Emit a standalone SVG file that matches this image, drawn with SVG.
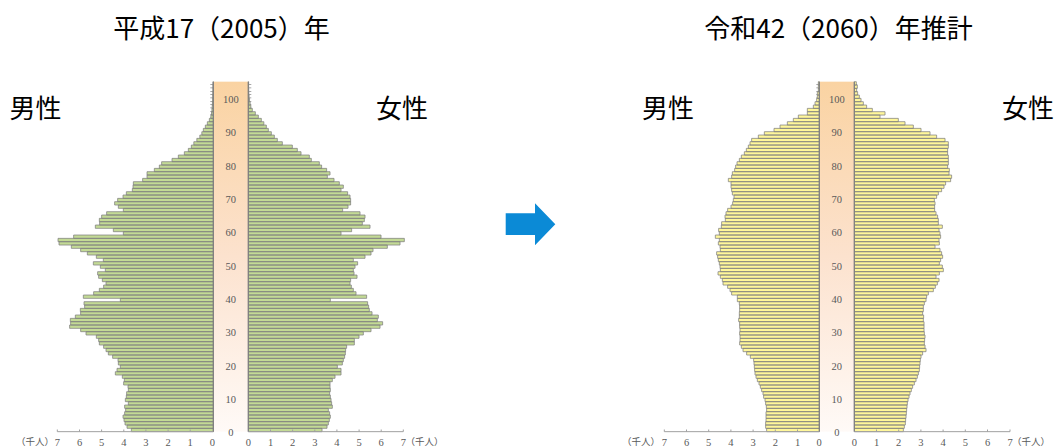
<svg xmlns="http://www.w3.org/2000/svg" width="1060" height="446" viewBox="0 0 1060 446">
<defs>
<linearGradient id="band" x1="0" y1="0" x2="0" y2="1">
<stop offset="0" stop-color="#FAD3A2"/>
<stop offset="0.5" stop-color="#FCE2CE"/>
<stop offset="1" stop-color="#FFFAF7"/>
</linearGradient>
<style>
.title{font-family:"Noto Sans CJK JP","Noto Sans CJK SC",sans-serif;font-size:26px;fill:#000;}
.sex{font-family:"Noto Sans CJK JP","Noto Sans CJK SC",sans-serif;font-size:26px;fill:#000;}
.age{font-family:"Liberation Serif",serif;font-size:10.5px;fill:#595959;text-anchor:middle;}
.num{font-family:"Liberation Serif",serif;font-size:10.5px;fill:#595959;text-anchor:middle;}
.unit{font-family:"Noto Sans CJK JP",sans-serif;font-size:9.5px;fill:#595959;text-anchor:middle;}
.green{fill:#C3DA95;stroke:#808080;stroke-width:0.75;}
.yellow{fill:#FFF79A;stroke:#808080;stroke-width:0.75;}
.edge{stroke:#7F7F7F;stroke-width:1.2;fill:none;}
.tick{stroke:#8C8C8C;stroke-width:3;stroke-dasharray:0.8 2.533;fill:none;}
.axis{stroke:#A0A0A0;stroke-width:1;fill:none;}
</style>
</defs>
<rect width="1060" height="446" fill="#fff"/>

<text class="title" x="221.5" y="38" text-anchor="middle">平成17（2005）年</text>
<text class="title" x="838.5" y="38" text-anchor="middle">令和42（2060）年推計</text>

<g id="pyramid-2005">
<rect x="213.33" y="81.67" width="35" height="350" fill="url(#band)"/>
<line class="tick" x1="211.8" y1="431.67" x2="211.8" y2="81.67"/>
<line class="tick" x1="249.8" y1="431.67" x2="249.8" y2="81.67"/>
<path id="male-2005" class="green" d="M213.33 431.67h-82v-3.333H213.33zm0-3.333h-86.3v-3.333H213.33zm0-3.333h-88.3v-3.333H213.33zm0-3.333h-89.3v-3.333H213.33zm0-3.333h-90.3v-3.333H213.33zm0-3.333h-88.7v-3.333H213.33zm0-3.333h-87.7v-3.333H213.33zm0-3.333h-88.7v-3.333H213.33zm0-3.333h-85v-3.333H213.33zm0-3.333h-88v-3.333H213.33zm0-3.333h-87v-3.333H213.33zm0-3.333h-86.7v-3.333H213.33zm0-3.333h-85v-3.333H213.33zm0-3.333h-85.3v-3.333H213.33zm0-3.333h-89.7v-3.333H213.33zm0-3.333h-89v-3.333H213.33zm0-3.333h-91v-3.333H213.33zm0-3.333h-98v-3.333H213.33zm0-3.333h-96.3v-3.333H213.33zm0-3.333h-93v-3.333H213.33zm0-3.333h-95v-3.333H213.33zm0-3.333h-95.3v-3.333H213.33zm0-3.333h-100.7v-3.333H213.33zm0-3.333h-105v-3.333H213.33zm0-3.333h-107.3v-3.333H213.33zm0-3.333h-109.7v-3.333H213.33zm0-3.333h-114v-3.333H213.33zm0-3.333h-114.7v-3.333H213.33zm0-3.333h-117v-3.333H213.33zm0-3.333h-127.3v-3.333H213.33zm0-3.333h-132.7v-3.333H213.33zm0-3.333h-143.7v-3.333H213.33zm0-3.333h-142.7v-3.333H213.33zm0-3.333h-143v-3.333H213.33zm0-3.333h-138v-3.333H213.33zm0-3.333h-132.7v-3.333H213.33zm0-3.333h-133v-3.333H213.33zm0-3.333h-128.7v-3.333H213.33zm0-3.333h-129.3v-3.333H213.33zm0-3.333h-93v-3.333H213.33zm0-3.333h-130v-3.333H213.33zm0-3.333h-119.7v-3.333H213.33zm0-3.333h-114v-3.333H213.33zm0-3.333h-109.7v-3.333H213.33zm0-3.333h-107.3v-3.333H213.33zm0-3.333h-111v-3.333H213.33zm0-3.333h-114.7v-3.333H213.33zm0-3.333h-115.7v-3.333H213.33zm0-3.333h-108v-3.333H213.33zm0-3.333h-113v-3.333H213.33zm0-3.333h-120v-3.333H213.33zm0-3.333h-110v-3.333H213.33zm0-3.333h-117v-3.333H213.33zm0-3.333h-126v-3.333H213.33zm0-3.333h-132.7v-3.333H213.33zm0-3.333h-142v-3.333H213.33zm0-3.333h-154.3v-3.333H213.33zm0-3.333h-155.3v-3.333H213.33zm0-3.333h-139.7v-3.333H213.33zm0-3.333h-90v-3.333H213.33zm0-3.333h-100v-3.333H213.33zm0-3.333h-118v-3.333H213.33zm0-3.333h-113.7v-3.333H213.33zm0-3.333h-114v-3.333H213.33zm0-3.333h-111.7v-3.333H213.33zm0-3.333h-106.7v-3.333H213.33zm0-3.333h-90v-3.333H213.33zm0-3.333h-95v-3.333H213.33zm0-3.333h-98.7v-3.333H213.33zm0-3.333h-95.7v-3.333H213.33zm0-3.333h-90.3v-3.333H213.33zm0-3.333h-87v-3.333H213.33zm0-3.333h-81v-3.333H213.33zm0-3.333h-80.3v-3.333H213.33zm0-3.333h-80v-3.333H213.33zm0-3.333h-70.7v-3.333H213.33zm0-3.333h-66.3v-3.333H213.33zm0-3.333h-66.3v-3.333H213.33zm0-3.333h-59v-3.333H213.33zm0-3.333h-54v-3.333H213.33zm0-3.333h-51.7v-3.333H213.33zm0-3.333h-41.3v-3.333H213.33zm0-3.333h-35v-3.333H213.33zm0-3.333h-29v-3.333H213.33zm0-3.333h-25v-3.333H213.33zm0-3.333h-22v-3.333H213.33zm0-3.333h-19.5v-3.333H213.33zm0-3.333h-16.5v-3.333H213.33zm0-3.333h-13.5v-3.333H213.33zm0-3.333h-11.5v-3.333H213.33zm0-3.333h-10v-3.333H213.33zm0-3.333h-8v-3.333H213.33zm0-3.333h-6v-3.333H213.33zm0-3.333h-4v-3.333H213.33zm0-3.333h-2.5v-3.333H213.33zm0-3.333h-1.8v-3.333H213.33zm0-3.333h-1.4v-3.333H213.33zm0-3.333h-1.1v-3.333H213.33zm0-3.333h-0.9v-3.333H213.33zm0-3.333h-0.7v-3.333H213.33zm0-3.333h-0.6v-3.333H213.33zm0-3.333h-0.5v-3.333H213.33zm0-3.333h-0.4v-3.333H213.33zm0-3.333h-0.4v-3.333H213.33zm0-3.333h-0.3v-3.333H213.33z"/>
<path id="female-2005" class="green" d="M248.33 431.67h73.7v-3.333H248.33zm0-3.333h78.7v-3.333H248.33zm0-3.333h80v-3.333H248.33zm0-3.333h81v-3.333H248.33zm0-3.333h82v-3.333H248.33zm0-3.333h81.3v-3.333H248.33zm0-3.333h80v-3.333H248.33zm0-3.333h84v-3.333H248.33zm0-3.333h83.3v-3.333H248.33zm0-3.333h82.7v-3.333H248.33zm0-3.333h82v-3.333H248.33zm0-3.333h81.3v-3.333H248.33zm0-3.333h82v-3.333H248.33zm0-3.333h81.7v-3.333H248.33zm0-3.333h81.7v-3.333H248.33zm0-3.333h84v-3.333H248.33zm0-3.333h86.7v-3.333H248.33zm0-3.333h92.7v-3.333H248.33zm0-3.333h92.7v-3.333H248.33zm0-3.333h89v-3.333H248.33zm0-3.333h94v-3.333H248.33zm0-3.333h95v-3.333H248.33zm0-3.333h96.3v-3.333H248.33zm0-3.333h97v-3.333H248.33zm0-3.333h97.3v-3.333H248.33zm0-3.333h98.3v-3.333H248.33zm0-3.333h106v-3.333H248.33zm0-3.333h106v-3.333H248.33zm0-3.333h110.7v-3.333H248.33zm0-3.333h115v-3.333H248.33zm0-3.333h122.7v-3.333H248.33zm0-3.333h131.7v-3.333H248.33zm0-3.333h134.3v-3.333H248.33zm0-3.333h129v-3.333H248.33zm0-3.333h130v-3.333H248.33zm0-3.333h123.7v-3.333H248.33zm0-3.333h121v-3.333H248.33zm0-3.333h120.3v-3.333H248.33zm0-3.333h119.3v-3.333H248.33zm0-3.333h82v-3.333H248.33zm0-3.333h118.3v-3.333H248.33zm0-3.333h107.7v-3.333H248.33zm0-3.333h105v-3.333H248.33zm0-3.333h103v-3.333H248.33zm0-3.333h101.7v-3.333H248.33zm0-3.333h102.3v-3.333H248.33zm0-3.333h108.7v-3.333H248.33zm0-3.333h105.7v-3.333H248.33zm0-3.333h105v-3.333H248.33zm0-3.333h106.7v-3.333H248.33zm0-3.333h109.3v-3.333H248.33zm0-3.333h105v-3.333H248.33zm0-3.333h116.7v-3.333H248.33zm0-3.333h122.7v-3.333H248.33zm0-3.333h124.7v-3.333H248.33zm0-3.333h139v-3.333H248.33zm0-3.333h151.7v-3.333H248.33zm0-3.333h156v-3.333H248.33zm0-3.333h132.7v-3.333H248.33zm0-3.333h92.7v-3.333H248.33zm0-3.333h103.3v-3.333H248.33zm0-3.333h121.7v-3.333H248.33zm0-3.333h114v-3.333H248.33zm0-3.333h116v-3.333H248.33zm0-3.333h116.7v-3.333H248.33zm0-3.333h111.7v-3.333H248.33zm0-3.333h94.3v-3.333H248.33zm0-3.333h99.7v-3.333H248.33zm0-3.333h102.3v-3.333H248.33zm0-3.333h102.3v-3.333H248.33zm0-3.333h101.7v-3.333H248.33zm0-3.333h99.3v-3.333H248.33zm0-3.333h92.7v-3.333H248.33zm0-3.333h95v-3.333H248.33zm0-3.333h91v-3.333H248.33zm0-3.333h85.7v-3.333H248.33zm0-3.333h79v-3.333H248.33zm0-3.333h81.7v-3.333H248.33zm0-3.333h78.3v-3.333H248.33zm0-3.333h73.3v-3.333H248.33zm0-3.333h71v-3.333H248.33zm0-3.333h63v-3.333H248.33zm0-3.333h61v-3.333H248.33zm0-3.333h52.7v-3.333H248.33zm0-3.333h49v-3.333H248.33zm0-3.333h44v-3.333H248.33zm0-3.333h34v-3.333H248.33zm0-3.333h29v-3.333H248.33zm0-3.333h26v-3.333H248.33zm0-3.333h23v-3.333H248.33zm0-3.333h20v-3.333H248.33zm0-3.333h18v-3.333H248.33zm0-3.333h15.5v-3.333H248.33zm0-3.333h13v-3.333H248.33zm0-3.333h10v-3.333H248.33zm0-3.333h7v-3.333H248.33zm0-3.333h4v-3.333H248.33zm0-3.333h2.5v-3.333H248.33zm0-3.333h1.8v-3.333H248.33zm0-3.333h1.2v-3.333H248.33zm0-3.333h0.8v-3.333H248.33zm0-3.333h0.5v-3.333H248.33zm0-3.333h0.4v-3.333H248.33zm0-3.333h0.3v-3.333H248.33zm0-3.333h0.3v-3.333H248.33z"/>
<line class="edge" x1="213.33" y1="81.67" x2="213.33" y2="431.67"/>
<line class="edge" x1="248.33" y1="81.67" x2="248.33" y2="431.67"/>
<path class="axis" d="M57.3 431.67H213.33M57.3 429.5v2.17M79.5 429.5v2.17M101.6 429.5v2.17M123.8 429.5v2.17M145.9 429.5v2.17M168.1 429.5v2.17M190.2 429.5v2.17M248.33 431.67H403.3M270.5 429.5v2.17M292.6 429.5v2.17M314.8 429.5v2.17M336.9 429.5v2.17M359.1 429.5v2.17M381.2 429.5v2.17M403.3 429.5v2.17"/>
<g class="age">
<text x="230.8" y="103">100</text><text x="230.8" y="136.3">90</text><text x="230.8" y="169.7">80</text><text x="230.8" y="203">70</text><text x="230.8" y="236.3">60</text><text x="230.8" y="269.7">50</text><text x="230.8" y="303">40</text><text x="230.8" y="336.3">30</text><text x="230.8" y="369.7">20</text><text x="230.8" y="403">10</text><text x="230.8" y="436.3">0</text>
</g>
<g class="num">
<text x="57.3" y="445.5">7</text><text x="79.5" y="445.5">6</text><text x="101.6" y="445.5">5</text><text x="123.8" y="445.5">4</text><text x="145.9" y="445.5">3</text><text x="168.1" y="445.5">2</text><text x="190.2" y="445.5">1</text><text x="212.3" y="445.5">0</text>
<text x="248.3" y="445.5">0</text><text x="270.5" y="445.5">1</text><text x="292.6" y="445.5">2</text><text x="314.8" y="445.5">3</text><text x="336.9" y="445.5">4</text><text x="359.1" y="445.5">5</text><text x="381.2" y="445.5">6</text><text x="403.3" y="445.5">7</text>
</g>
<text class="unit" x="35" y="445">（千人）</text>
<text class="unit" x="424.5" y="445">（千人）</text>
<text class="sex" x="9.5" y="118">男性</text>
<text class="sex" x="376" y="118">女性</text>
</g>

<g id="arrow">
<polygon points="505.7,213.3 535,213.3 535,203.3 555.3,224.2 535,245.2 535,235 505.7,235" fill="#0B8AD6"/>
</g>

<g id="pyramid-2060">
<rect x="819.33" y="81.67" width="35" height="350" fill="url(#band)"/>
<line class="tick" x1="817.8" y1="431.67" x2="817.8" y2="81.67"/>
<line class="tick" x1="855.8" y1="431.67" x2="855.8" y2="81.67"/>
<path id="male-2060" class="yellow" d="M819.33 431.67h-52.7v-3.333H819.33zm0-3.333h-53.7v-3.333H819.33zm0-3.333h-53.7v-3.333H819.33zm0-3.333h-53.3v-3.333H819.33zm0-3.333h-53.3v-3.333H819.33zm0-3.333h-53.3v-3.333H819.33zm0-3.333h-52.7v-3.333H819.33zm0-3.333h-53v-3.333H819.33zm0-3.333h-53.7v-3.333H819.33zm0-3.333h-54.3v-3.333H819.33zm0-3.333h-55.7v-3.333H819.33zm0-3.333h-56.3v-3.333H819.33zm0-3.333h-57.7v-3.333H819.33zm0-3.333h-59v-3.333H819.33zm0-3.333h-60.3v-3.333H819.33zm0-3.333h-62v-3.333H819.33zm0-3.333h-63.3v-3.333H819.33zm0-3.333h-64.3v-3.333H819.33zm0-3.333h-64.7v-3.333H819.33zm0-3.333h-65v-3.333H819.33zm0-3.333h-65.3v-3.333H819.33zm0-3.333h-65.7v-3.333H819.33zm0-3.333h-69v-3.333H819.33zm0-3.333h-72.7v-3.333H819.33zm0-3.333h-76.3v-3.333H819.33zm0-3.333h-78v-3.333H819.33zm0-3.333h-79.7v-3.333H819.33zm0-3.333h-79.3v-3.333H819.33zm0-3.333h-79.3v-3.333H819.33zm0-3.333h-79.7v-3.333H819.33zm0-3.333h-79.3v-3.333H819.33zm0-3.333h-79.7v-3.333H819.33zm0-3.333h-79.7v-3.333H819.33zm0-3.333h-80.7v-3.333H819.33zm0-3.333h-80v-3.333H819.33zm0-3.333h-80v-3.333H819.33zm0-3.333h-79.7v-3.333H819.33zm0-3.333h-79.7v-3.333H819.33zm0-3.333h-80v-3.333H819.33zm0-3.333h-82v-3.333H819.33zm0-3.333h-82v-3.333H819.33zm0-3.333h-87.7v-3.333H819.33zm0-3.333h-89.3v-3.333H819.33zm0-3.333h-91.7v-3.333H819.33zm0-3.333h-96.3v-3.333H819.33zm0-3.333h-97v-3.333H819.33zm0-3.333h-99v-3.333H819.33zm0-3.333h-101.3v-3.333H819.33zm0-3.333h-99v-3.333H819.33zm0-3.333h-99.3v-3.333H819.33zm0-3.333h-100v-3.333H819.33zm0-3.333h-101v-3.333H819.33zm0-3.333h-101.7v-3.333H819.33zm0-3.333h-102.7v-3.333H819.33zm0-3.333h-99v-3.333H819.33zm0-3.333h-99.3v-3.333H819.33zm0-3.333h-101v-3.333H819.33zm0-3.333h-100v-3.333H819.33zm0-3.333h-104v-3.333H819.33zm0-3.333h-100v-3.333H819.33zm0-3.333h-100.7v-3.333H819.33zm0-3.333h-98v-3.333H819.33zm0-3.333h-97.7v-3.333H819.33zm0-3.333h-94v-3.333H819.33zm0-3.333h-94.3v-3.333H819.33zm0-3.333h-93.3v-3.333H819.33zm0-3.333h-91.7v-3.333H819.33zm0-3.333h-88.3v-3.333H819.33zm0-3.333h-86.7v-3.333H819.33zm0-3.333h-86v-3.333H819.33zm0-3.333h-85.3v-3.333H819.33zm0-3.333h-87v-3.333H819.33zm0-3.333h-87.7v-3.333H819.33zm0-3.333h-88.3v-3.333H819.33zm0-3.333h-88.3v-3.333H819.33zm0-3.333h-91v-3.333H819.33zm0-3.333h-87.7v-3.333H819.33zm0-3.333h-87v-3.333H819.33zm0-3.333h-84.7v-3.333H819.33zm0-3.333h-83.7v-3.333H819.33zm0-3.333h-82.3v-3.333H819.33zm0-3.333h-80v-3.333H819.33zm0-3.333h-78v-3.333H819.33zm0-3.333h-75v-3.333H819.33zm0-3.333h-73v-3.333H819.33zm0-3.333h-71v-3.333H819.33zm0-3.333h-69.3v-3.333H819.33zm0-3.333h-67.7v-3.333H819.33zm0-3.333h-61v-3.333H819.33zm0-3.333h-55v-3.333H819.33zm0-3.333h-45.3v-3.333H819.33zm0-3.333h-39.3v-3.333H819.33zm0-3.333h-32v-3.333H819.33zm0-3.333h-26v-3.333H819.33zm0-3.333h-21v-3.333H819.33zm0-3.333h-12v-3.333H819.33zm0-3.333h-12v-3.333H819.33zm0-3.333h-6v-3.333H819.33zm0-3.333h-4.3v-3.333H819.33zm0-3.333h-2.7v-3.333H819.33zm0-3.333h-2v-3.333H819.33zm0-3.333h-2v-3.333H819.33zm0-3.333h-1v-3.333H819.33zm0-3.333h-1v-3.333H819.33zm0-3.333h-1v-3.333H819.33z"/>
<path id="female-2060" class="yellow" d="M854.33 431.67h49v-3.333H854.33zm0-3.333h50v-3.333H854.33zm0-3.333h51v-3.333H854.33zm0-3.333h51.3v-3.333H854.33zm0-3.333h51.7v-3.333H854.33zm0-3.333h52v-3.333H854.33zm0-3.333h52.3v-3.333H854.33zm0-3.333h52.7v-3.333H854.33zm0-3.333h53v-3.333H854.33zm0-3.333h53.7v-3.333H854.33zm0-3.333h54.7v-3.333H854.33zm0-3.333h55.7v-3.333H854.33zm0-3.333h57v-3.333H854.33zm0-3.333h58.3v-3.333H854.33zm0-3.333h60v-3.333H854.33zm0-3.333h61.7v-3.333H854.33zm0-3.333h63v-3.333H854.33zm0-3.333h64v-3.333H854.33zm0-3.333h65v-3.333H854.33zm0-3.333h65.3v-3.333H854.33zm0-3.333h65.7v-3.333H854.33zm0-3.333h66v-3.333H854.33zm0-3.333h66.7v-3.333H854.33zm0-3.333h68.3v-3.333H854.33zm0-3.333h71.7v-3.333H854.33zm0-3.333h70.7v-3.333H854.33zm0-3.333h70v-3.333H854.33zm0-3.333h70.3v-3.333H854.33zm0-3.333h70.7v-3.333H854.33zm0-3.333h70v-3.333H854.33zm0-3.333h69.7v-3.333H854.33zm0-3.333h69.7v-3.333H854.33zm0-3.333h69.7v-3.333H854.33zm0-3.333h69v-3.333H854.33zm0-3.333h69.3v-3.333H854.33zm0-3.333h68.3v-3.333H854.33zm0-3.333h69v-3.333H854.33zm0-3.333h69v-3.333H854.33zm0-3.333h70v-3.333H854.33zm0-3.333h71.7v-3.333H854.33zm0-3.333h72.3v-3.333H854.33zm0-3.333h74v-3.333H854.33zm0-3.333h79v-3.333H854.33zm0-3.333h81v-3.333H854.33zm0-3.333h83v-3.333H854.33zm0-3.333h84.7v-3.333H854.33zm0-3.333h81.7v-3.333H854.33zm0-3.333h85v-3.333H854.33zm0-3.333h89v-3.333H854.33zm0-3.333h88v-3.333H854.33zm0-3.333h85v-3.333H854.33zm0-3.333h86.3v-3.333H854.33zm0-3.333h88.3v-3.333H854.33zm0-3.333h87.3v-3.333H854.33zm0-3.333h85.7v-3.333H854.33zm0-3.333h80.7v-3.333H854.33zm0-3.333h85v-3.333H854.33zm0-3.333h84.7v-3.333H854.33zm0-3.333h86.3v-3.333H854.33zm0-3.333h85.7v-3.333H854.33zm0-3.333h84.7v-3.333H854.33zm0-3.333h88v-3.333H854.33zm0-3.333h84v-3.333H854.33zm0-3.333h84v-3.333H854.33zm0-3.333h83.3v-3.333H854.33zm0-3.333h81.7v-3.333H854.33zm0-3.333h80.3v-3.333H854.33zm0-3.333h80.3v-3.333H854.33zm0-3.333h80.7v-3.333H854.33zm0-3.333h80v-3.333H854.33zm0-3.333h82.3v-3.333H854.33zm0-3.333h84v-3.333H854.33zm0-3.333h87.3v-3.333H854.33zm0-3.333h89.7v-3.333H854.33zm0-3.333h91.3v-3.333H854.33zm0-3.333h96.3v-3.333H854.33zm0-3.333h97.3v-3.333H854.33zm0-3.333h94.7v-3.333H854.33zm0-3.333h95v-3.333H854.33zm0-3.333h93.3v-3.333H854.33zm0-3.333h94v-3.333H854.33zm0-3.333h94v-3.333H854.33zm0-3.333h94v-3.333H854.33zm0-3.333h93.3v-3.333H854.33zm0-3.333h93.3v-3.333H854.33zm0-3.333h94v-3.333H854.33zm0-3.333h94v-3.333H854.33zm0-3.333h90.7v-3.333H854.33zm0-3.333h82.3v-3.333H854.33zm0-3.333h75.7v-3.333H854.33zm0-3.333h66.7v-3.333H854.33zm0-3.333h59v-3.333H854.33zm0-3.333h50.7v-3.333H854.33zm0-3.333h44v-3.333H854.33zm0-3.333h25.7v-3.333H854.33zm0-3.333h30.7v-3.333H854.33zm0-3.333h18v-3.333H854.33zm0-3.333h12.3v-3.333H854.33zm0-3.333h9v-3.333H854.33zm0-3.333h6.7v-3.333H854.33zm0-3.333h5v-3.333H854.33zm0-3.333h3.3v-3.333H854.33zm0-3.333h2.3v-3.333H854.33zm0-3.333h3v-3.333H854.33zm0-3.333h2v-3.333H854.33z"/>
<line class="edge" x1="819.33" y1="81.67" x2="819.33" y2="431.67"/>
<line class="edge" x1="854.33" y1="81.67" x2="854.33" y2="431.67"/>
<path class="axis" d="M664.3 431.67H819.33M664.3 429.5v2.17M686.5 429.5v2.17M708.7 429.5v2.17M730.9 429.5v2.17M753.1 429.5v2.17M775.3 429.5v2.17M797.5 429.5v2.17M854.33 431.67H1010M876.5 429.5v2.17M898.7 429.5v2.17M920.9 429.5v2.17M943.1 429.5v2.17M965.3 429.5v2.17M987.5 429.5v2.17M1010 429.5v2.17"/>
<g class="age">
<text x="836.8" y="103">100</text><text x="836.8" y="136.3">90</text><text x="836.8" y="169.7">80</text><text x="836.8" y="203">70</text><text x="836.8" y="236.3">60</text><text x="836.8" y="269.7">50</text><text x="836.8" y="303">40</text><text x="836.8" y="336.3">30</text><text x="836.8" y="369.7">20</text><text x="836.8" y="403">10</text><text x="836.8" y="436.3">0</text>
</g>
<g class="num">
<text x="664.3" y="445.5">7</text><text x="686.5" y="445.5">6</text><text x="708.7" y="445.5">5</text><text x="730.9" y="445.5">4</text><text x="753.1" y="445.5">3</text><text x="775.3" y="445.5">2</text><text x="797.5" y="445.5">1</text><text x="819" y="445.5">0</text>
<text x="854.3" y="445.5">0</text><text x="876.5" y="445.5">1</text><text x="898.7" y="445.5">2</text><text x="920.9" y="445.5">3</text><text x="943.1" y="445.5">4</text><text x="965.3" y="445.5">5</text><text x="987.5" y="445.5">6</text><text x="1010" y="445.5">7</text>
</g>
<text class="unit" x="641" y="445">（千人）</text>
<text class="unit" x="1031" y="445">（千人）</text>
<text class="sex" x="642" y="118">男性</text>
<text class="sex" x="1002" y="118">女性</text>
</g>
</svg>
